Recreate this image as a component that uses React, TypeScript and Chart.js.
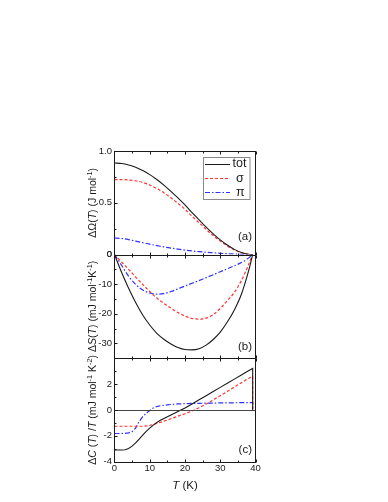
import React, { useEffect, useRef } from 'react';
import { Chart, registerables } from 'chart.js';
Chart.register(...registerables);

// ---- data ----
const tAB = [0, 2, 4, 6, 8, 10, 12, 14, 16, 18, 20, 22, 24, 26, 28, 30, 32, 34, 36, 38, 39.2];
const omegaTot = [0.884, 0.879, 0.865, 0.843, 0.811, 0.772, 0.725, 0.671, 0.611, 0.547, 0.48, 0.405, 0.335, 0.265, 0.2, 0.142, 0.092, 0.05, 0.02, 0.003, 0];
const omegaSigma = [0.724, 0.724, 0.72, 0.713, 0.696, 0.672, 0.638, 0.597, 0.548, 0.495, 0.437, 0.37, 0.307, 0.243, 0.183, 0.13, 0.084, 0.045, 0.018, 0.0025, 0];
const omegaPi = [0.16, 0.155, 0.145, 0.13, 0.115, 0.1, 0.087, 0.074, 0.063, 0.052, 0.043, 0.035, 0.028, 0.022, 0.017, 0.012, 0.008, 0.005, 0.002, 0.0005, 0];

const sTot = [0, -6.0, -11.4, -16.2, -20.4, -23.8, -26.6, -28.6, -30.2, -31.4, -32.1, -32.2, -31.8, -30.6, -28.7, -26.2, -22.8, -18.7, -13.4, -5.7, 0];
const sSigma = [0, -2.5, -5.0, -7.6, -10.1, -12.5, -14.7, -16.5, -18.1, -19.6, -20.8, -21.6, -21.8, -21.5, -20.3, -18.2, -15.6, -12.8, -8.8, -3.5, 0];
const sPi = [0, -3.6, -7.3, -10.1, -12.0, -13.0, -13.4, -13.2, -12.5, -11.6, -10.6, -9.7, -8.8, -7.8, -6.8, -5.8, -4.8, -3.8, -2.7, -1.2, 0];

const tC = [0, 1, 2, 3, 4, 5, 6, 7, 8, 9, 10, 11, 12, 13, 14, 15, 16, 18, 20, 22, 24, 26, 28, 30, 32, 34, 36, 38, 39.2, 39.2];
const cTot = [-3.1, -3.1, -3.1, -3.08, -2.98, -2.8, -2.55, -2.25, -1.95, -1.65, -1.4, -1.17, -0.97, -0.8, -0.66, -0.53, -0.4, -0.13, 0.15, 0.46, 0.78, 1.1, 1.42, 1.74, 2.06, 2.38, 2.7, 3.02, 3.2, 0];
const cSigma = [-1.26, -1.26, -1.26, -1.26, -1.26, -1.26, -1.26, -1.26, -1.26, -1.24, -1.2, -1.13, -1.05, -0.96, -0.87, -0.78, -0.68, -0.48, -0.3, -0.08, 0.17, 0.45, 0.77, 1.1, 1.43, 1.77, 2.1, 2.43, 2.6, 0];
const cPi = [-1.82, -1.82, -1.82, -1.81, -1.77, -1.68, -1.4, -0.9, -0.52, -0.26, -0.04, 0.15, 0.26, 0.32, 0.36, 0.39, 0.42, 0.46, 0.48, 0.5, 0.51, 0.52, 0.53, 0.54, 0.55, 0.55, 0.56, 0.56, 0.56, 0];

const seriesNames = ['tot', 'σ', 'π'];
const xTicks = [0, 10, 20, 30, 40];
const aTicks = [0, 0.5, 1];
const aTickLabels = ['0', '0.5', '1.0'];
const bTicks = [-30, -20, -10, 0];
const cTicks = [-4, -2, 0, 2];
const panelLabels = ['(a)', '(b)', '(c)'];

const FONT = '"Liberation Sans", Arial, sans-serif';
const COLORS = ['#1a1a1a', '#ff3535', '#3030ff'];
const DASHES: number[][] = [[], [3, 2], [5, 2, 1.5, 2]];

type Seg = { t: string; i?: boolean; s?: boolean };
const titleA: Seg[] = [{ t: 'ΔΩ(' }, { t: 'T', i: true }, { t: ') (J mol' }, { t: '-1', s: true }, { t: ')' }];
const titleB: Seg[] = [{ t: 'Δ' }, { t: 'S', i: true }, { t: '(' }, { t: 'T', i: true }, { t: ') (mJ mol' }, { t: '-1', s: true }, { t: 'K' }, { t: '-1', s: true }, { t: ')' }];
const titleC: Seg[] = [{ t: 'Δ' }, { t: 'C', i: true }, { t: ' (' }, { t: 'T', i: true }, { t: ') /' }, { t: 'T', i: true }, { t: ' (mJ mol' }, { t: '-1', s: true }, { t: ' K' }, { t: '-2', s: true }, { t: ')' }];
const titleX: Seg[] = [{ t: 'T', i: true }, { t: ' (K)' }];

function drawRich(ctx: CanvasRenderingContext2D, segs: Seg[], x: number, y: number, size: number) {
  const fontOf = (g: Seg) => `${g.i ? 'italic ' : ''}${g.s ? size * 0.7 : size}px ${FONT}`;
  let total = 0;
  const widths = segs.map((g) => {
    ctx.font = fontOf(g);
    const w = ctx.measureText(g.t).width;
    total += w;
    return w;
  });
  let cx = x - total / 2;
  ctx.textAlign = 'left';
  ctx.textBaseline = 'alphabetic';
  segs.forEach((g, k) => {
    ctx.font = fontOf(g);
    ctx.fillText(g.t, cx, y + size * 0.35 - (g.s ? size * 0.38 : 0));
    cx += widths[k];
  });
}

const panelPlugin = {
  id: 'panels',
  afterDraw(chart: any) {
    const ctx: CanvasRenderingContext2D = chart.ctx;
    const { left, right } = chart.chartArea;
    const xs = chart.scales.x;
    const ids = ['ya', 'yb', 'yc'];
    const majors = [aTicks, bTicks, cTicks];
    const minorStep = [0.25, 5, 1];
    const titles = [titleA, titleB, titleC];
    const labelOffsets = [17.5, 11, 11.5];
    ctx.save();
    // zero line in panel c
    const yc = chart.scales.yc;
    const z = Math.round(yc.getPixelForValue(0)) + 0.5;
    ctx.strokeStyle = '#444';
    ctx.lineWidth = 1;
    ctx.beginPath();
    ctx.moveTo(left, z);
    ctx.lineTo(right, z);
    ctx.stroke();

    ids.forEach((id, i) => {
      const s = chart.scales[id];
      const top = Math.round(s.top) + 0.5;
      const bottom = Math.round(s.bottom) + 0.5;
      ctx.strokeStyle = '#1a1a1a';
      ctx.lineWidth = 1;
      ctx.setLineDash([]);
      ctx.strokeRect(left, top, right - left, bottom - top);
      // x ticks (inward) at top and bottom
      ctx.beginPath();
      for (let v = 0; v <= 40; v += 5) {
        const px = Math.round(xs.getPixelForValue(v)) + 0.5;
        const len = v % 10 === 0 ? 3 : 2;
        ctx.moveTo(px, bottom);
        ctx.lineTo(px, bottom - len);
        ctx.moveTo(px, top);
        ctx.lineTo(px, top + len);
      }
      // y ticks (inward)
      const mj = majors[i];
      for (let v = s.min; v <= s.max + 1e-9; v += minorStep[i]) {
        const py = Math.round(s.getPixelForValue(v)) + 0.5;
        const isMajor = mj.some((m) => Math.abs(m - v) < 1e-6);
        ctx.moveTo(left, py);
        ctx.lineTo(left + (isMajor ? 3 : 2), py);
      }
      ctx.stroke();
      // y titles
      ctx.fillStyle = '#1a1a1a';
      ctx.save();
      ctx.translate(92, (s.top + s.bottom) / 2);
      ctx.rotate(-Math.PI / 2);
      drawRich(ctx, titles[i], 0, 0, 10.5);
      ctx.restore();
      // panel labels
      ctx.font = `11.5px ${FONT}`;
      ctx.textAlign = 'right';
      ctx.textBaseline = 'middle';
      ctx.fillText(panelLabels[i], 252, s.bottom - labelOffsets[i]);
    });
    // x title
    ctx.fillStyle = '#1a1a1a';
    drawRich(ctx, titleX, (left + right) / 2, 485, 11.5);

    // legend
    const lx = 203.5, ly = 157.5, lw = 46.5, lh = 42;
    ctx.strokeStyle = '#8a8a8a';
    ctx.lineWidth = 1;
    ctx.setLineDash([]);
    ctx.strokeRect(lx, ly, lw, lh);
    const textX = [232.5, 236, 236];
    seriesNames.forEach((name, k) => {
      const yy = 164 + k * 14.2;
      ctx.strokeStyle = COLORS[k];
      ctx.lineWidth = 1;
      ctx.setLineDash(DASHES[k]);
      ctx.beginPath();
      ctx.moveTo(205, Math.round(yy) + 0.5);
      ctx.lineTo(230, Math.round(yy) + 0.5);
      ctx.stroke();
      ctx.setLineDash([]);
      ctx.fillStyle = '#1a1a1a';
      ctx.font = `12.5px ${FONT}`;
      ctx.textAlign = 'left';
      ctx.textBaseline = 'middle';
      ctx.fillText(name, textX[k], yy);
    });
    ctx.restore();
  },
};

export default function App() {
  const ref = useRef<HTMLCanvasElement>(null);
  useEffect(() => {
    const canvas = ref.current!;
    const pts = (xs: number[], ys: number[]) => xs.map((x, i) => ({ x, y: ys[i] }));
    const panels = [
      { id: 'ya', x: tAB, series: [omegaTot, omegaSigma, omegaPi], smooth: true },
      { id: 'yb', x: tAB, series: [sTot, sSigma, sPi], smooth: true },
      { id: 'yc', x: tC, series: [cTot, cSigma, cPi], smooth: false },
    ];
    const datasets: any[] = [];
    panels.forEach((p) => {
      p.series.forEach((ys, k) => {
        datasets.push({
          label: seriesNames[k],
          data: pts(p.x, ys),
          xAxisID: 'x',
          yAxisID: p.id,
          borderColor: COLORS[k],
          borderWidth: k === 0 ? 1.1 : 1.2,
          borderDash: DASHES[k],
          pointRadius: 0,
          fill: false,
          tension: 0,
          cubicInterpolationMode: p.smooth ? 'monotone' : 'default',
        });
      });
    });
    const tickFont = { family: FONT, size: 9.5 };
    const yBase = (min: number, max: number, ticks: number[], labels: string[] | null, weight: number) => ({
      type: 'linear',
      position: 'left',
      stack: 'panels',
      stackWeight: 1,
      weight,
      min,
      max,
      afterBuildTicks: (s: any) => {
        s.ticks = ticks.map((v) => ({ value: v }));
      },
      afterFit: (s: any) => {
        s.width = 40;
      },
      ticks: {
        font: tickFont,
        color: '#1a1a1a',
        padding: 2.5,
        callback: (v: number) => {
          const idx = ticks.indexOf(v);
          return labels && idx >= 0 ? labels[idx] : String(v);
        },
      },
      grid: { display: false, drawTicks: false },
      border: { display: false },
    });
    const chart = new Chart(canvas, {
      type: 'line',
      data: { datasets },
      options: {
        animation: false,
        responsive: false,
        events: [],
        layout: { padding: { left: 74.5, right: 132.5, top: 151, bottom: 20.3 } },
        plugins: { legend: { display: false }, tooltip: { enabled: false } },
        scales: {
          x: {
            type: 'linear',
            position: 'bottom',
            min: 0,
            max: 40,
            afterBuildTicks: (s: any) => {
              s.ticks = xTicks.map((v) => ({ value: v }));
            },
            afterFit: (s: any) => {
              s.height = 20;
            },
            ticks: { font: tickFont, color: '#1a1a1a', padding: 1, maxRotation: 0 },
            grid: { display: false, drawTicks: false },
            border: { display: false },
          },
          ya: yBase(0, 1, aTicks, aTickLabels, 3),
          yb: yBase(-35, 0, bTicks, null, 2),
          yc: yBase(-4, 4, cTicks, null, 1),
        } as any,
      },
      plugins: [panelPlugin],
    } as any);
    return () => chart.destroy();
  }, []);
  return (
    <div style={{ position: 'fixed', left: 0, top: 0, width: 388, height: 502, background: '#fff' }}>
      <canvas ref={ref} width={388} height={502} style={{ display: 'block', width: 388, height: 502 }} />
    </div>
  );
}
